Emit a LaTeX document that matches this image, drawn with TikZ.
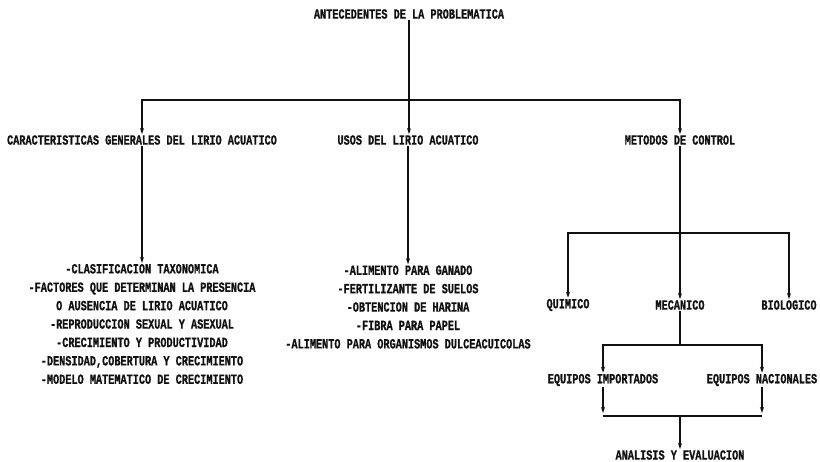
\documentclass[tikz,border=0pt]{standalone}
\usepackage{fontspec}
\usepackage{tikz}
\usetikzlibrary{arrows.meta,positioning}
\newfontfamily\typewriter[FakeStretch=0.73, BoldFeatures={FakeBold=1}]{Liberation Mono}
\definecolor{inkblack}{HTML}{111111}

\begin{document}
\begin{tikzpicture}[x=1pt, y=-1pt,
    entry/.style     = {inner sep=1pt, text=inkblack,
                        font=\typewriter\bfseries\fontsize{14}{18.4}\selectfont},
    entrylist/.style = {entry, align=center},
    link/.style      = {line width=1.5pt, inkblack},
    arrow/.style     = {link, -{Stealth[length=6pt,width=4pt]}},
]
  \useasboundingbox (0,0) rectangle (820,461);

  \node[entry] (title)   at (409,14)  {ANTECEDENTES DE LA PROBLEMATICA};
  \node[entry] (caract)  at (142,140) {CARACTERISTICAS GENERALES DEL LIRIO ACUATICO};
  \node[entry] (usos)    at (408,140) {USOS DEL LIRIO ACUATICO};
  \node[entry] (metodos) at (680,140) {METODOS DE CONTROL};

  % first level
  \coordinate (top) at (409,100);
  \draw[link] (title) -- (top);
  \draw[arrow] (top) -| (caract);
  \draw[arrow] (top) -- (top |- usos.north);
  \draw[arrow] (top) -| (metodos);

  % lists
  \node[entrylist] (caractlist) at (142,324)
      {-CLASIFICACION TAXONOMICA\\
       -FACTORES QUE DETERMINAN LA PRESENCIA\\
       O AUSENCIA DE LIRIO ACUATICO\\
       -REPRODUCCION SEXUAL Y ASEXUAL\\
       -CRECIMIENTO Y PRODUCTIVIDAD\\
       -DENSIDAD,COBERTURA Y CRECIMIENTO\\
       -MODELO MATEMATICO DE CRECIMIENTO};
  \node[entrylist] (usoslist) at (408,307)
      {-ALIMENTO PARA GANADO\\
       -FERTILIZANTE DE SUELOS\\
       -OBTENCION DE HARINA\\
       -FIBRA PARA PAPEL\\
       -ALIMENTO PARA ORGANISMOS DULCEACUICOLAS};
  \draw[arrow] (caract) -- (caractlist);
  \draw[arrow] (usos) -- (usoslist);

  % control methods
  \node[entry] (quimico)   at (568,305) {QUIMICO};
  \node[entry] (mecanico)  at (680,305) {MECANICO};
  \node[entry] (biologico) at (789,305) {BIOLOGICO};
  \coordinate (split) at (680,233);
  \draw[link] (metodos) -- (split);
  \draw[arrow] (split) -| (quimico);
  \draw[arrow] (split) -- (mecanico);
  \draw[arrow] (split) -| (biologico);

  % equipment
  \node[entry] (importados) at (603,380) {EQUIPOS IMPORTADOS};
  \node[entry] (nacionales) at (762,380) {EQUIPOS NACIONALES};
  \coordinate (fork) at (680,345);
  \draw[link] (mecanico) -- (fork);
  \draw[arrow] (fork) -| (importados);
  \draw[arrow] (fork) -| (nacionales);

  % evaluation
  \node[entry] (analisis) at (680,455) {ANALISIS Y EVALUACION};
  \coordinate (join) at (680,416);
  \draw[arrow, shorten >=3pt] (importados) -- (importados |- join);
  \draw[arrow, shorten >=3pt] (nacionales) -- (nacionales |- join);
  \draw[link] (importados |- join) -- (nacionales |- join);
  \draw[arrow] (join) -- (analisis);

\end{tikzpicture}
\end{document}
